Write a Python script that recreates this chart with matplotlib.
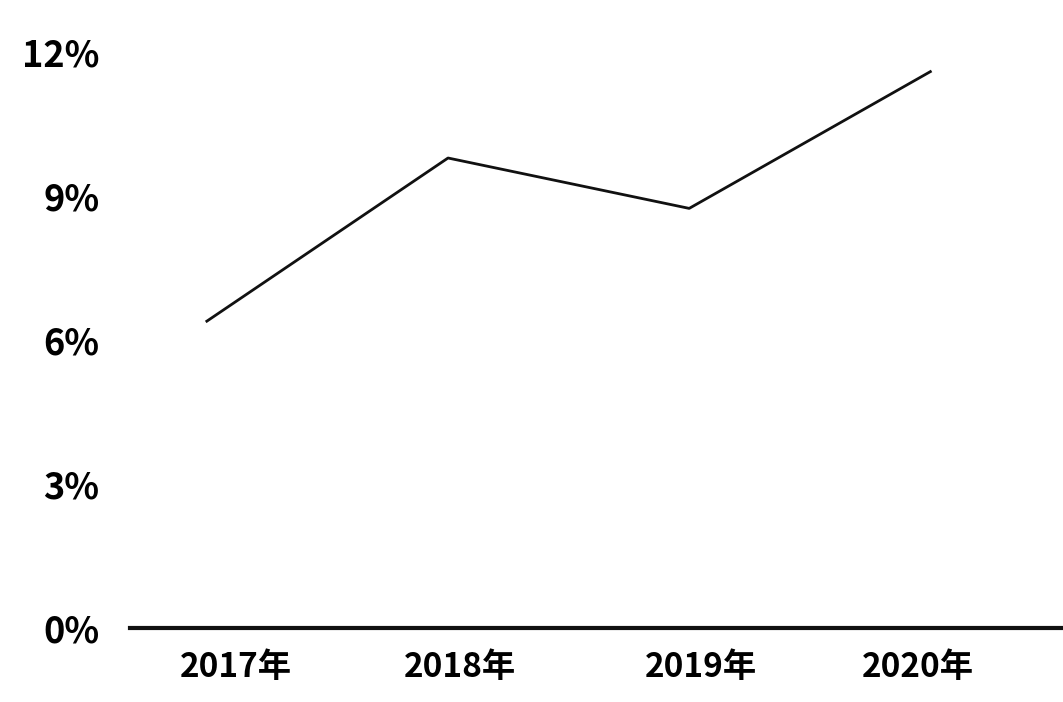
import matplotlib.pyplot as plt

years = ['2017年', '2018年', '2019年', '2020年']
rates = [6.4, 9.8, 8.75, 11.6]
yticks = [0, 3, 6, 9, 12]
ytick_labels = ['0%', '3%', '6%', '9%', '12%']

plt.rcParams['font.family'] = ['Noto Sans CJK SC', 'DejaVu Sans']

fig = plt.figure(figsize=(10.63, 7.02), dpi=100)
ax = fig.add_axes([0.122, 0.105, 0.878, 0.875])

x = range(len(years))
ax.plot(x, rates, color='#111111', linewidth=2)
ax.axhline(0, color='#111111', linewidth=3, clip_on=False)

ax.set_xlim(-0.32, 3.55)
ax.set_ylim(0, 12.8)
ax.set_yticks(yticks)
ax.set_yticklabels(ytick_labels, fontsize=26, fontweight='bold')
ax.set_xticks([0.12, 1.05, 2.05, 2.95])
ax.set_xticklabels(years, fontsize=24, fontweight='bold')
ax.tick_params(length=0, pad=16)
ax.tick_params(axis='y', pad=22)
for s in ax.spines.values():
    s.set_visible(False)

fig.savefig('out.png', dpi=100)
